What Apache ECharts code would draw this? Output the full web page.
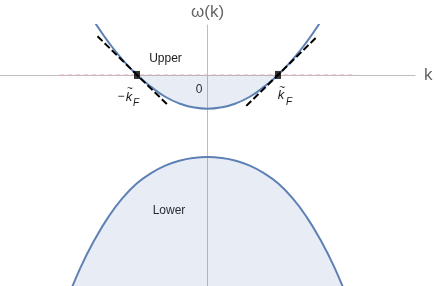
<!DOCTYPE html>
<html><head><meta charset="utf-8">
<script src="https://cdn.jsdelivr.net/npm/echarts@6/dist/echarts.min.js"></script>
<style>html,body{margin:0;padding:0;background:#fff}#c{width:436px;height:286px}</style>
</head><body><div id="c"></div>
<script>
// Upper band
const upperK = [-1.6,-1.4,-1.2,-1.0,-0.8,-0.6,-0.4,-0.2,0,0.2,0.4,0.6,0.8,1.0,1.2,1.4,1.6];
const upperW = [0.75,0.46,0.21,0,-0.17,-0.31,-0.405,-0.46,-0.48,-0.46,-0.405,-0.31,-0.17,0,0.21,0.46,0.75];
// Occupied part of the upper band (filled to axis)
const fillK = [-1.0,-0.8,-0.6,-0.4,-0.2,0,0.2,0.4,0.6,0.8,1.0];
const fillW = [0,-0.17,-0.31,-0.405,-0.46,-0.48,-0.46,-0.405,-0.31,-0.17,0];
// Lower band
const lowerK = [-2.0,-1.8,-1.6,-1.4,-1.2,-1.0,-0.8,-0.6,-0.4,-0.2,0,0.2,0.4,0.6,0.8,1.0,1.2,1.4,1.6,1.8,2.0];
const lowerW = [-3.22,-2.735,-2.34,-2.01,-1.745,-1.54,-1.395,-1.29,-1.22,-1.18,-1.167,-1.18,-1.22,-1.29,-1.395,-1.54,-1.745,-2.01,-2.34,-2.735,-3.22];
// Tangent lines at the Fermi points
const tanLeftK = [-1.56,-0.55];
const tanLeftW = [0.55,-0.44];
const tanRightK = [0.55,1.56];
const tanRightW = [-0.44,0.55];
// Fermi points
const fermiK = [-1,1];
const fermiW = [0,0];
// Chemical potential level
const levelK = [-2.1,2.1];
const levelW = [0,0];

const zip = (a,b) => a.map((v,i)=>[v,b[i]]);
const BLUE = '#5E81B5';
const FILL = 'rgba(94,129,181,0.2)';
const FONT = 'Liberation Sans, Arial, sans-serif';

const chart = echarts.init(document.getElementById('c'), null, {renderer:'canvas'});
const option = {
  animation:false,
  grid:{left:0,right:21,top:25,bottom:0,containLabel:false,outerBoundsMode:'none'},
  xAxis:{type:'value',min:-2.943,max:2.943,
    axisLine:{onZero:true,lineStyle:{color:'#bdbdbd',width:1}},
    axisTick:{show:false},axisLabel:{show:false},splitLine:{show:false},
    name:'k',nameLocation:'end',nameGap:9,
    nameTextStyle:{fontSize:17,color:'#666',fontFamily:FONT}},
  yAxis:{type:'value',min:-3.0,max:0.71,
    axisLine:{onZero:true,lineStyle:{color:'#bdbdbd',width:1}},
    axisTick:{show:false},axisLabel:{show:false},splitLine:{show:false},
    name:'ω(k)',nameLocation:'end',nameGap:4,
    nameTextStyle:{fontSize:17,color:'#666',fontFamily:FONT}},
  series:[
    {type:'line',data:zip(lowerK,lowerW),smooth:true,showSymbol:false,z:2,
      lineStyle:{color:BLUE,width:2},areaStyle:{color:FILL,origin:'start'}},
    {type:'line',data:zip(fillK,fillW),smooth:true,showSymbol:false,z:2,
      lineStyle:{width:0,opacity:0},areaStyle:{color:FILL,origin:'auto'}},
    {type:'line',data:zip(levelK,levelW),showSymbol:false,z:3,
      lineStyle:{color:'#EDB0BA',width:1,type:[5,3]}},
    {type:'line',data:zip(upperK,upperW),smooth:true,showSymbol:false,z:4,
      lineStyle:{color:BLUE,width:2}},
    {type:'line',data:zip(tanLeftK,tanLeftW),showSymbol:false,z:5,
      lineStyle:{color:'#000',width:2,type:[7,3]}},
    {type:'line',data:zip(tanRightK,tanRightW),showSymbol:false,z:5,
      lineStyle:{color:'#000',width:2,type:[7,3]}},
    {type:'scatter',data:zip(fermiK,fermiW),symbol:'rect',symbolSize:[6,8],z:6,
      itemStyle:{color:'#000'}}
  ]
};
chart.setOption(option);

function px(k,w){ return chart.convertToPixel({gridIndex:0},[k,w]); }
const txt = (p,text,opts) => Object.assign({type:'text',x:p[0],y:p[1],
  style:Object.assign({text:text,fill:'#1a1a1a',font:'12px '+FONT,align:'center',verticalAlign:'middle'},opts||{})});
const pU = px(-0.596,0.235), p0 = px(-0.12,-0.21), pL = px(-0.546,-1.93);
const pKL = px(-1.1,-0.33), pKR = px(1.1,-0.31);
chart.setOption({graphic:[
  txt(pU,'Upper'),
  txt(p0,'0'),
  txt(pL,'Lower'),
  // -k~F (left)
  txt([pKL[0]-9,pKL[1]-1],'−',{font:'12px '+FONT}),
  txt([pKL[0]-1,pKL[1]-1],'k',{font:'italic 13px '+FONT}),
  txt([pKL[0],pKL[1]-9],'~',{font:'10px '+FONT}),
  txt([pKL[0]+6,pKL[1]+5],'F',{font:'italic 10px '+FONT}),
  // k~F (right)
  txt([pKR[0]-4,pKR[1]-1],'k',{font:'italic 13px '+FONT}),
  txt([pKR[0]-3,pKR[1]-9],'~',{font:'10px '+FONT}),
  txt([pKR[0]+4,pKR[1]+5],'F',{font:'italic 10px '+FONT})
]});
</script></body></html>
